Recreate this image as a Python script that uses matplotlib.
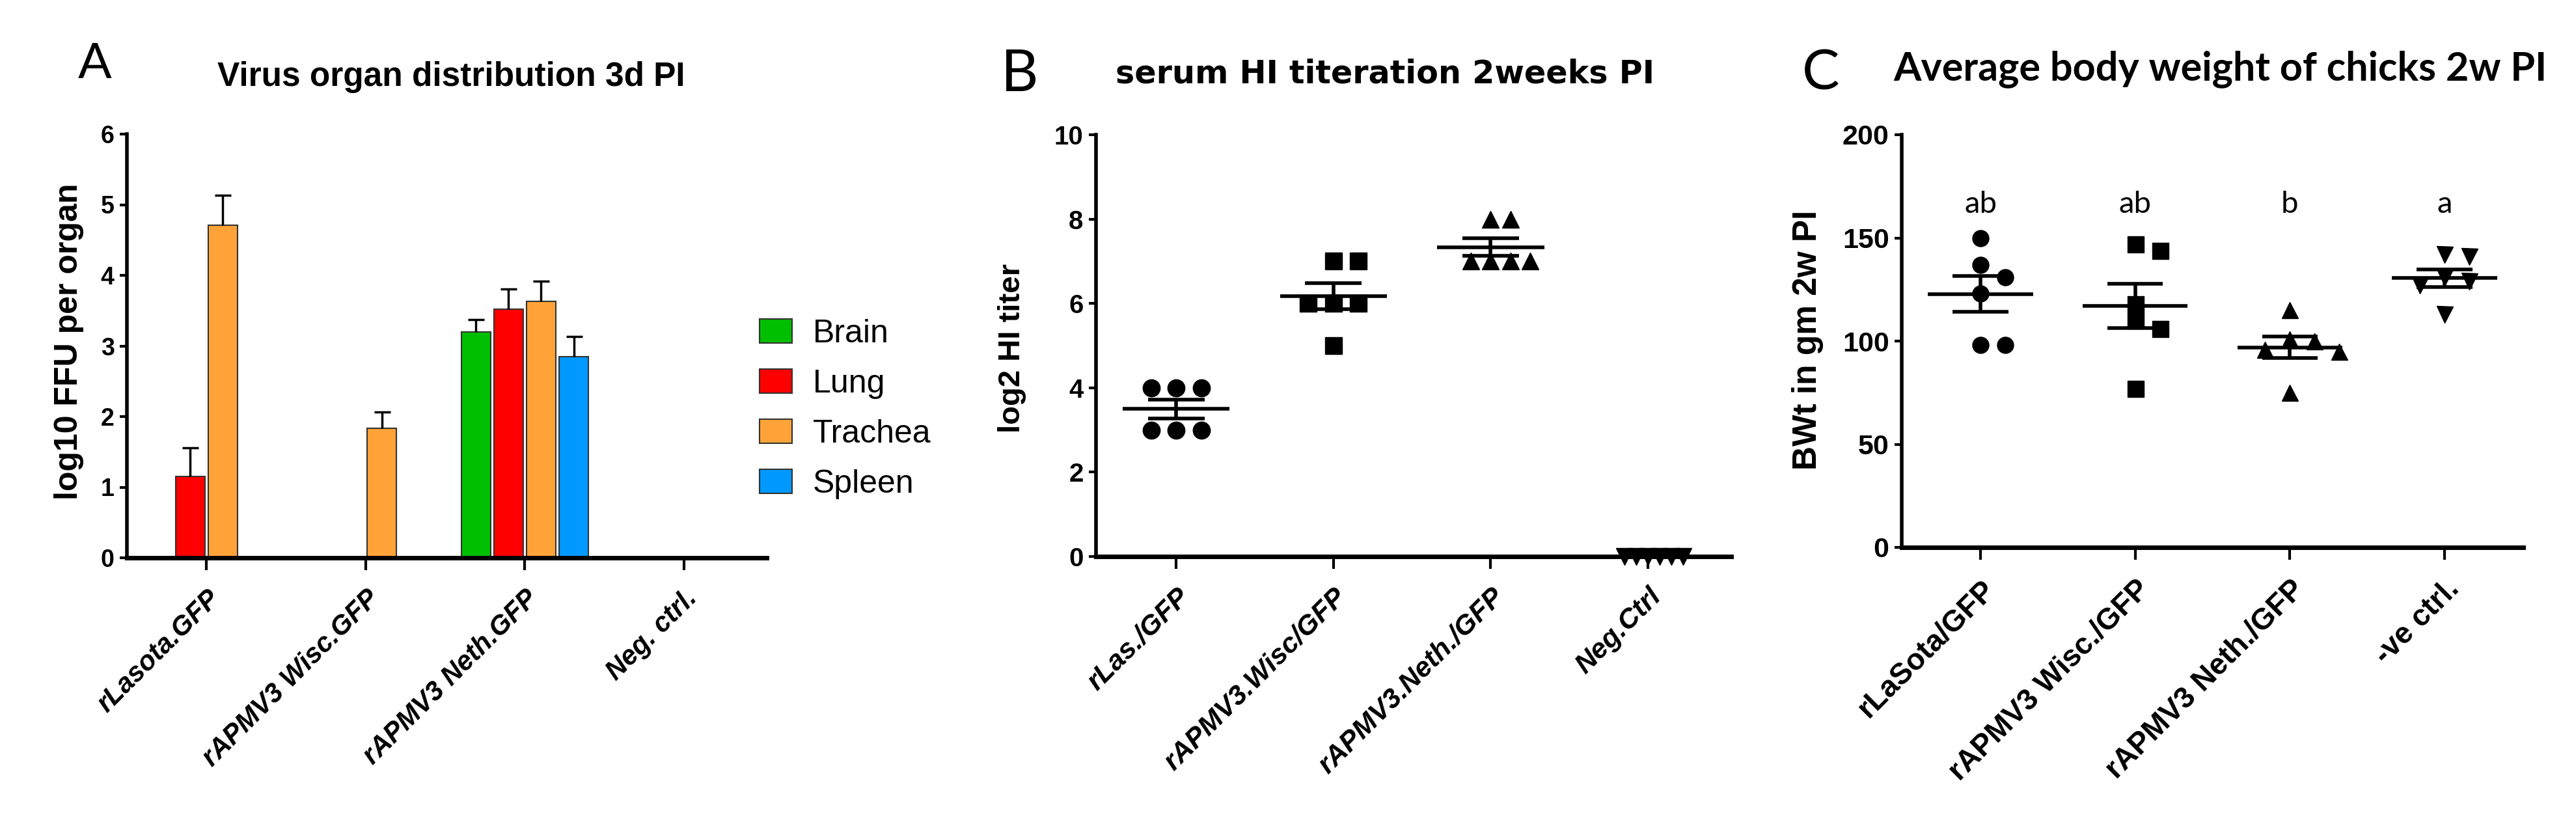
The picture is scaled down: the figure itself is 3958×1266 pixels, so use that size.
import numpy as np
import matplotlib
matplotlib.use("Agg")
import matplotlib.pyplot as plt
from matplotlib.patches import Patch

ARIAL = ["Liberation Sans", "DejaVu Sans"]
CALIBRI = ["Lato", "DejaVu Sans"]
plt.rcParams["font.family"] = ARIAL

# ---- panel A: virus organ distribution (bar means + SEM) ----
organ_groups = ["rLasota.GFP", "rAPMV3 Wisc.GFP", "rAPMV3 Neth.GFP", "Neg. ctrl."]
organs = ["Brain", "Lung", "Trachea", "Spleen"]
organ_colors = ["#00BE00", "#FF0000", "#FFA338", "#0099FF"]
brain_mean = [0, 0, 3.20, 0]
brain_sem = [0, 0, 0.17, 0]
lung_mean = [1.15, 0, 3.52, 0]
lung_sem = [0.41, 0, 0.29, 0]
trachea_mean = [4.71, 1.83, 3.63, 0]
trachea_sem = [0.42, 0.23, 0.29, 0]
spleen_mean = [0, 0, 2.85, 0]
spleen_sem = [0, 0, 0.28, 0]

# ---- panel B: serum HI titer (log2), individual birds ----
hi_groups = ["rLas./GFP", "rAPMV3.Wisc/GFP", "rAPMV3.Neth./GFP", "Neg.Ctrl"]
hi_rlas = [4, 4, 4, 3, 3, 3]
hi_wisc = [7, 7, 6, 6, 6, 5]
hi_neth = [8, 8, 7, 7, 7, 7]
hi_neg = [0, 0, 0, 0, 0, 0]

# ---- panel C: body weight (gm), individual birds ----
bw_groups = ["rLaSota/GFP", "rAPMV3 Wisc./GFP", "rAPMV3 Neth./GFP", "-ve ctrl."]
bw_rlas = [150, 137, 131, 123, 98, 98]
bw_wisc = [147, 144, 118, 110, 106, 77]
bw_neth = [115, 101, 100, 96, 95, 75]
bw_neg = [142, 141, 131, 129, 127, 113]
bw_letters = ["ab", "ab", "b", "a"]

group_markers = ["o", "s", "^", "v"]

W, H = 3958, 1266
fig = plt.figure(figsize=(W / 100, H / 100), dpi=100)


def px_rect(left, right, top, bottom):
    return [left / W, 1 - bottom / H, (right - left) / W, (bottom - top) / H]


def style_axes(ax, ytick_size, xtick_size, italic):
    for side in ["top", "right"]:
        ax.spines[side].set_visible(False)
    ax.spines["left"].set_linewidth(4)
    ax.spines["bottom"].set_linewidth(5)
    ax.tick_params(axis="y", width=3, length=8, pad=6, labelsize=ytick_size)
    ax.tick_params(axis="x", width=3, length=14, pad=16)
    for lab in ax.get_yticklabels():
        lab.set_fontweight("bold")
    plt.setp(ax.get_xticklabels(), rotation=45, ha="right", va="top",
             rotation_mode="anchor", fontsize=xtick_size, fontweight="bold",
             fontstyle="italic" if italic else "normal")


def swarm(ax, values, step, size_px):
    # spread points that would overlap, like a GraphPad scatter dot plot
    x_px = abs(ax.transData.transform((step, 0))[0] - ax.transData.transform((0, 0))[0])
    min_dx = min(size_px, x_px) * 0.99
    placed = []
    offsets = np.zeros(len(values))
    for i in np.argsort(values, kind="stable")[::-1]:
        y = ax.transData.transform((0, values[i]))[1]
        for k in [0, 1, -1, 2, -2, 3, -3, 4, -4]:
            if all(abs(k - pk) * x_px >= min_dx or abs(y - py) >= size_px
                   for pk, py in placed):
                break
        placed.append((k, y))
        offsets[i] = k * step
    return offsets


def scatter_panel(ax, data, msize):
    for i, vals in enumerate(data):
        vals = np.asarray(vals, dtype=float)
        n_tie = max(np.unique(vals, return_counts=True)[1])
        step = min(0.16, 0.375 / max(n_tie - 1, 1))
        xs = i + swarm(ax, vals, step, msize / 0.72)
        ax.plot(xs, vals, linestyle="none", marker=group_markers[i],
                markersize=msize, color="black", clip_on=False, zorder=4)
        mean = vals.mean()
        sem = vals.std(ddof=1) / np.sqrt(len(vals))
        ax.hlines(mean, i - 0.34, i + 0.34, color="black", lw=4, zorder=3, clip_on=False)
        ax.vlines(i, mean - sem, mean + sem, color="black", lw=4, zorder=3, clip_on=False)
        ax.hlines([mean - sem, mean + sem], i - 0.18, i + 0.18, color="black",
                  lw=4, zorder=3, clip_on=False)


# ---------------- panel A ----------------
ax_a = fig.add_axes(px_rect(195, 1178, 206, 857))
ax_a.set_xlim(-0.5, 3.52)
ax_a.set_ylim(0, 6)
x = np.arange(len(organ_groups))
means = [brain_mean, lung_mean, trachea_mean, spleen_mean]
sems = [brain_sem, lung_sem, trachea_sem, spleen_sem]
offsets = [-0.3075, -0.1025, 0.1025, 0.3075]
for off, m, s, c in zip(offsets, means, sems, organ_colors):
    m = np.asarray(m, dtype=float)
    s = np.asarray(s, dtype=float)
    ax_a.bar(x + off, m, width=0.185, color=c, edgecolor="#333333", linewidth=1.5, zorder=2)
    has = m > 0
    eb = ax_a.errorbar(x[has] + off, m[has], yerr=[np.zeros(has.sum()), s[has]],
                       fmt="none", ecolor="black", elinewidth=2.5, capsize=9,
                       capthick=2.5, zorder=3)
    eb[1][0].set_visible(False)
ax_a.set_yticks(range(0, 7))
ax_a.set_xticks(x, organ_groups)
style_axes(ax_a, 27, 30, True)
ax_a.legend(handles=[Patch(facecolor=c, edgecolor="#333333", linewidth=1.5, label=o)
                     for o, c in zip(organs, organ_colors)],
            loc="upper left", bbox_to_anchor=(1167 / W, 1 - 490 / H),
            bbox_transform=fig.transFigure, frameon=False, fontsize=36,
            handlelength=1.0, handleheight=0.74, handletextpad=0.64,
            labelspacing=0.62, borderpad=0, borderaxespad=0)

# ---------------- panel B ----------------
ax_b = fig.add_axes(px_rect(1684, 2660, 207, 855))
ax_b.set_xlim(-0.51, 3.53)
ax_b.set_ylim(0, 10)
ax_b.set_yticks(range(0, 11, 2))
ax_b.set_xticks(range(4), hi_groups)
scatter_panel(ax_b, [hi_rlas, hi_wisc, hi_neth, hi_neg], 19)
style_axes(ax_b, 29, 31, True)

# ---------------- panel C ----------------
ax_c = fig.add_axes(px_rect(2922, 3877, 207, 841))
ax_c.set_xlim(-0.51, 3.51)
ax_c.set_ylim(0, 200)
ax_c.set_yticks(range(0, 201, 50))
ax_c.set_xticks(range(4), bw_groups)
scatter_panel(ax_c, [bw_rlas, bw_wisc, bw_neth, bw_neg], 18)
style_axes(ax_c, 31, 33, False)
for i, letter in enumerate(bw_letters):
    ax_c.text(i, 162, letter, ha="center", va="baseline", fontsize=34,
              family=CALIBRI)

# ---------------- titles, panel letters, axis labels ----------------
fig.text(334 / W, 1 - 132 / H, "Virus organ distribution 3d PI", fontsize=37,
         fontweight="bold", ha="left", va="baseline")
fig.text(1714 / W, 1 - 128 / H, "serum HI titeration 2weeks PI", fontsize=35.5,
         fontweight="bold", ha="left", va="baseline", family=["DejaVu Sans"])
fig.text(2909 / W, 1 - 123 / H, "Average body weight of chicks 2w PI", fontsize=44,
         fontweight="bold", ha="left", va="baseline", family=CALIBRI)

fig.text(120 / W, 1 - 120 / H, "A", fontsize=55, fontweight="normal",
         ha="left", va="baseline", family=CALIBRI)
fig.text(1538 / W, 1 - 140 / H, "B", fontsize=64, fontweight="normal",
         ha="left", va="baseline", family=CALIBRI)
fig.text(2769 / W, 1 - 137 / H, "C", fontsize=62, fontweight="normal",
         ha="left", va="baseline", family=CALIBRI)

fig.text(106 / W, 1 - 525 / H, "log10 FFU per organ", fontsize=36, fontweight="bold",
         rotation=90, ha="center", va="center")
fig.text(1555 / W, 1 - 535 / H, "log2 HI titer", fontsize=34, fontweight="bold",
         rotation=90, ha="center", va="center")
fig.text(2778 / W, 1 - 522 / H, "BWt in gm 2w PI", fontsize=37, fontweight="bold",
         rotation=90, ha="center", va="center")

fig.savefig("out.png", dpi=100)
